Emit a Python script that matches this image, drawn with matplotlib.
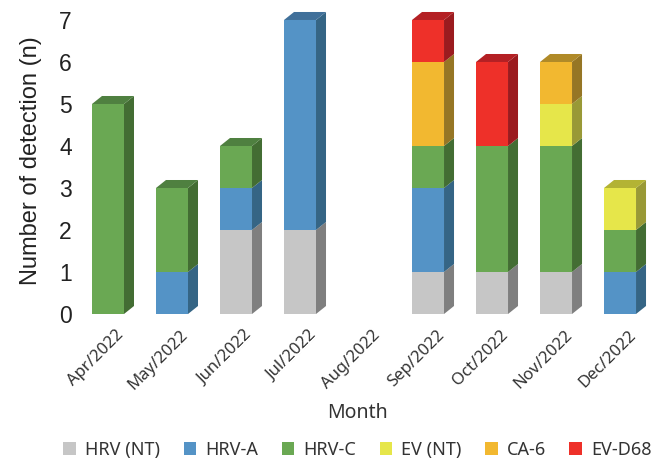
import numpy as np
import matplotlib
matplotlib.use('Agg')
from matplotlib import pyplot as plt
from matplotlib.patches import Polygon, Patch
from matplotlib.transforms import ScaledTranslation

months = ['Apr/2022', 'May/2022', 'Jun/2022', 'Jul/2022', 'Aug/2022',
          'Sep/2022', 'Oct/2022', 'Nov/2022', 'Dec/2022']
series = ['HRV (NT)', 'HRV-A', 'HRV-C', 'EV (NT)', 'CA-6', 'EV-D68']
hrv_nt = [0, 0, 2, 2, 0, 1, 1, 1, 0]
hrv_a = [0, 1, 1, 5, 0, 2, 0, 0, 1]
hrv_c = [5, 2, 1, 0, 0, 1, 3, 3, 1]
ev_nt = [0, 0, 0, 0, 0, 0, 0, 1, 1]
ca6 = [0, 0, 0, 0, 0, 2, 0, 1, 0]
ev_d68 = [0, 0, 0, 0, 0, 1, 2, 0, 0]

front = ['#C6C6C6', '#5493C6', '#6AA853', '#E6E64A', '#F2B830', '#EE3029']
side = ['#7F7F7F', '#356585', '#436D33', '#999936', '#967625', '#9B1B1F']
top = ['#A3A3A3', '#40709A', '#4F8040', '#B3B334', '#B08A28', '#B42024']

fig = plt.figure(figsize=(6.62, 4.59), dpi=100)
ax = fig.add_axes([0.1148, 0.3159, 0.8798, 0.668])
ax.set_xlim(-0.5, 8.6)
ax.set_ylim(0, 7.3)

width = 0.5
# depth of the 3d look, in pixels, turned into data units
px_x = 582.4 / 9.1
px_y = 306.6 / 7.3
dx = 10 / px_x
dy = 8 / px_y

data = [hrv_nt, hrv_a, hrv_c, ev_nt, ca6, ev_d68]
x = np.arange(len(months))
bottom = np.zeros(len(months))
for vals, fc, sc in zip(data, front, side):
    vals = np.array(vals, dtype=float)
    ax.bar(x, vals, width, bottom=bottom, color=fc, linewidth=0, zorder=2)
    for xi, b, v in zip(x, bottom, vals):
        if v == 0:
            continue
        xr = xi + width / 2
        ax.add_patch(Polygon([(xr, b), (xr + dx, b + dy), (xr + dx, b + v + dy), (xr, b + v)],
                             closed=True, facecolor=sc, linewidth=0, zorder=1, clip_on=False))
    bottom += vals

# top faces take the colour of the uppermost segment
for xi in x:
    total = sum(d[xi] for d in data)
    if total == 0:
        continue
    k = max(i for i, d in enumerate(data) if d[xi] > 0)
    xl, xr = xi - width / 2, xi + width / 2
    ax.add_patch(Polygon([(xl, total), (xl + dx, total + dy), (xr + dx, total + dy), (xr, total)],
                         closed=True, facecolor=top[k], linewidth=0, zorder=3, clip_on=False))

for s in ax.spines.values():
    s.set_visible(False)
ax.tick_params(length=0)
ax.set_yticks(range(0, 8))
ax.set_yticklabels([str(v) for v in range(0, 8)], family='Liberation Sans',
                   fontsize=16.5, color='#222222')
ax.tick_params(axis='y', pad=3)
ax.set_ylabel('Number of detection (n)', fontsize=17, family='Liberation Sans',
              color='#222222', labelpad=12)

ax.set_xticks(x)
ax.set_xticklabels(months, rotation=45, ha='right', rotation_mode='anchor',
                   fontsize=12, family='Noto Sans', color='#333333')
offset = ScaledTranslation(8 / 100, -8 / 100, fig.dpi_scale_trans)
for lab in ax.get_xticklabels():
    lab.set_transform(lab.get_transform() + offset)

fig.text(0.54, 0.1, 'Month', ha='center', va='center', fontsize=14,
         family='Noto Sans', color='#333333')

handles = [Patch(facecolor=c, linewidth=0) for c in front]
fig.legend(handles, series, loc='center', bbox_to_anchor=(0.54, 0.02), ncol=6,
           frameon=False, handlelength=0.7, handleheight=0.7, handletextpad=0.5,
           columnspacing=1.3, borderpad=0.1, prop={'family': 'Noto Sans', 'size': 13},
           labelcolor='#333333')

fig.savefig('out.png', dpi=100)
